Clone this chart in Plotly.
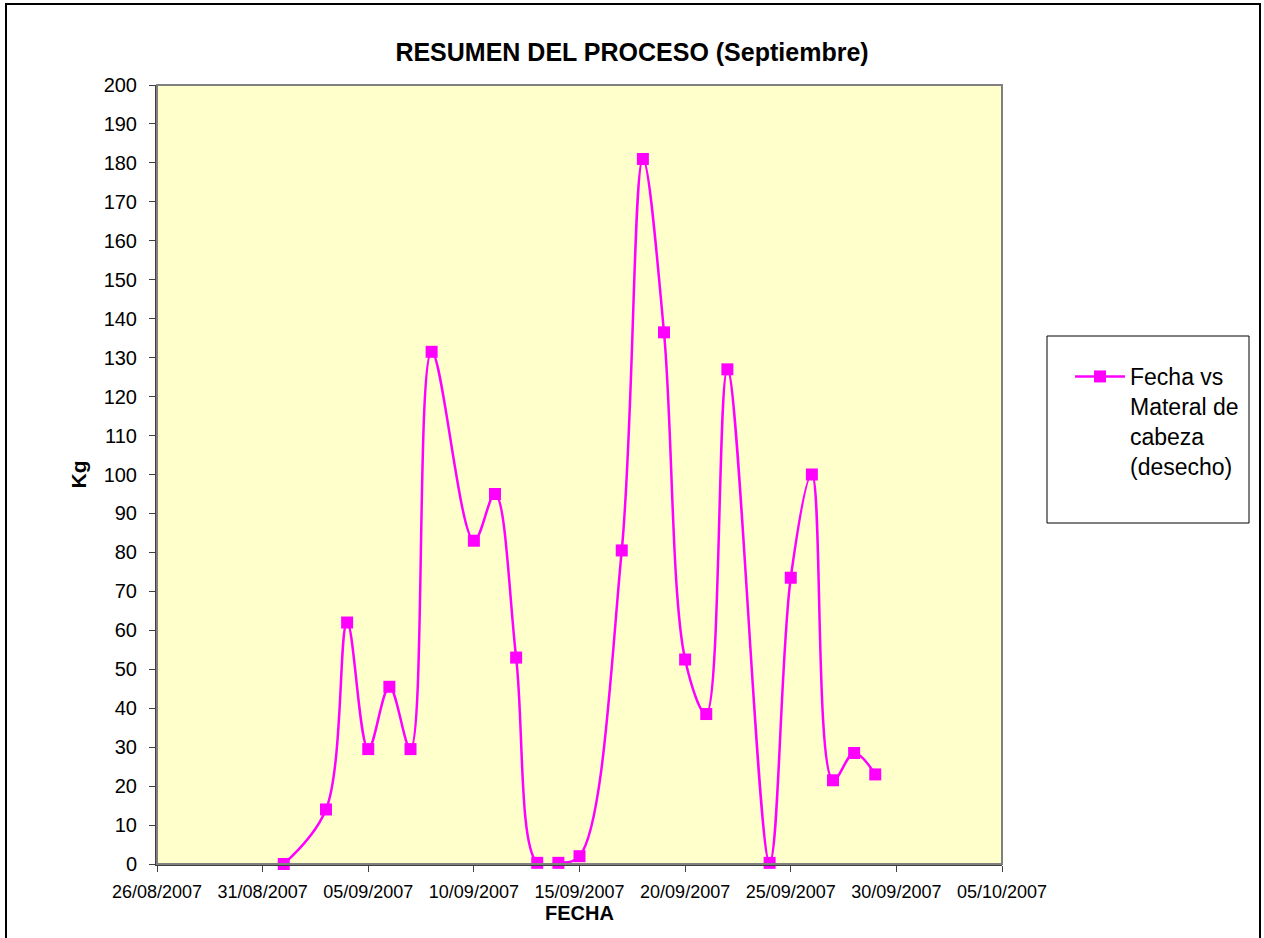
import plotly.graph_objects as go

# ---- data ----
fechas = ["2007-09-01", "2007-09-03", "2007-09-04", "2007-09-05", "2007-09-06",
          "2007-09-07", "2007-09-08", "2007-09-10", "2007-09-11", "2007-09-12",
          "2007-09-13", "2007-09-14", "2007-09-15", "2007-09-17", "2007-09-18",
          "2007-09-19", "2007-09-20", "2007-09-21", "2007-09-22", "2007-09-24",
          "2007-09-25", "2007-09-26", "2007-09-27", "2007-09-28", "2007-09-29"]
kg = [0, 14, 62, 29.5, 45.5,
      29.5, 131.5, 83, 95, 53,
      0.3, 0.3, 2, 80.5, 181,
      136.5, 52.5, 38.5, 127, 0.3,
      73.5, 100, 21.5, 28.5, 23]
serie_nombre = "Fecha vs<br>Materal de<br>cabeza<br>(desecho)"
titulo = "<b>RESUMEN DEL PROCESO (Septiembre)</b>"
titulo_x = "<b>FECHA</b>"
titulo_y = "<b>Kg</b>"

# ---- layout geometry (pixels) ----
W, H = 1264, 938
L, R, T, B = 157, 262, 85, 74
PW, PH = W - L - R, H - T - B

def px(x):
    return (x - L) / PW

def py(y):
    return (H - B - y) / PH

FONT = "Liberation Sans Narrow, Arial Narrow, Liberation Sans, Arial, sans-serif"
MAG = "#FF00FF"

fig = go.Figure()
fig.add_trace(go.Scatter(
    x=fechas, y=kg, mode="lines+markers", name=serie_nombre,
    line=dict(color=MAG, width=2.5, shape="spline", smoothing=1.0),
    marker=dict(symbol="square", size=12, color=MAG),
    cliponaxis=False,
))

fig.update_layout(
    width=W, height=H,
    margin=dict(l=L, r=R, t=T, b=B),
    paper_bgcolor="white",
    plot_bgcolor="#FFFFCC",
    font=dict(family=FONT, color="black", size=20),
    showlegend=True,
    title=dict(text=titulo, x=px(632), xref="paper", xanchor="center",
               y=1 - 52.5 / H, yref="container", yanchor="middle",
               font=dict(family=FONT, size=25, color="black")),
    legend=dict(x=px(1070), y=py(355), xanchor="left", yanchor="top",
                bgcolor="rgba(0,0,0,0)", borderwidth=0, valign="top",
                itemwidth=50,
                font=dict(family=FONT, size=23, color="black")),
    xaxis=dict(
        type="date",
        range=["2007-08-26", "2007-10-05"],
        tick0="2007-08-26", dtick=5 * 86400000,
        tickformat="%d/%m/%Y", tickangle=0,
        showgrid=False, zeroline=False,
        showline=True, linecolor="#404040", linewidth=2,
        ticks="outside", ticklen=6, tickcolor="#404040", tickwidth=1,
        ticklabelstandoff=4,
        tickfont=dict(family=FONT, size=18, color="black"),
        title=dict(text=titulo_x, standoff=0,
                   font=dict(family=FONT, size=20, color="black")),
    ),
    yaxis=dict(
        range=[0, 200], dtick=10, tick0=0,
        showgrid=False, zeroline=False,
        showline=True, linecolor="#404040", linewidth=2,
        ticks="outside", ticklen=6, tickcolor="#404040", tickwidth=1,
        ticklabelstandoff=8,
        tickfont=dict(family=FONT, size=20, color="black"),
        title=dict(text=titulo_y, standoff=11,
                   font=dict(family=FONT, size=21, color="black")),
    ),
    shapes=[
        # plot area frame (top/right gray)
        dict(type="rect", xref="paper", yref="paper", x0=0, x1=1, y0=0, y1=1,
             line=dict(color="#808080", width=2), layer="above"),
        # legend box
        dict(type="rect", xref="paper", yref="paper",
             x0=px(1047), x1=px(1249), y0=py(523), y1=py(336),
             line=dict(color="black", width=1)),
        # outer chart border
        dict(type="rect", xref="paper", yref="paper",
             x0=px(6), x1=px(1260), y0=py(950), y1=py(4),
             line=dict(color="black", width=2)),
    ],
)

fig.write_html("out.html", config={"displayModeBar": False},
               post_script="document.body.style.margin='0';")
